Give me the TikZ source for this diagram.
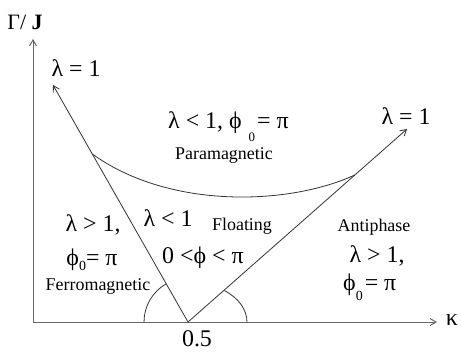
\documentclass[tikz,border=0pt]{standalone}
\usepackage{fontspec}
\setmainfont{Liberation Serif}
\usetikzlibrary{arrows.meta,positioning,calc}

\begin{document}
\begin{tikzpicture}[x=1bp, y=1bp, >={Straight Barb[length=6bp,width=7bp]},
  big/.style={font=\fontsize{24}{28}\selectfont, inner sep=0pt},
  small/.style={font=\fontsize{18}{21}\selectfont, inner sep=0pt},
  ln/.style={draw=black!80, line width=0.8bp},
  ax/.style={draw=black!60, line width=1bp}]
\useasboundingbox (0,0) rectangle (461,352);
\coordinate (o) at (33,30);
\coordinate (ytip) at (33,313);
\coordinate (xtip) at (437,30);
\coordinate (v) at (188,30);
\coordinate (lt) at (53,267);
\coordinate (rt) at (407,223);
\draw[ax,->] (o) -- (ytip);
\draw[ax,->] (o) -- (xtip);
\draw[ln,->] (v) -- (lt) coordinate[pos=0.709] (cl);
\draw[ln,->] (v) -- (rt) coordinate[pos=0.762] (cr);
\draw[ln] (cl) .. controls (170,142) and (290,147) .. (cr);
\draw[ln] ($(v)+(-44,0)$) arc[start angle=180, end angle=120, radius=44];
\draw[ln] ($(v)+(59,0)$) arc[start angle=0, end angle=52, x radius=59, y radius=40];
\node[font=\fontsize{22}{26}\selectfont, inner sep=0pt] (gj) at (25,330) {Γ/ \textbf{J}};
\node[big] (k) at (452,32) {κ};
\node[big] (half) at (197,13) {0.5};
\node[big] (l1a) at (76,284) {λ = 1};
\node[big] (l1b) at (406,236) {λ = 1};
\node[big, anchor=base west] (para) at (168,224)
  {λ < 1, ϕ\hspace{7bp}\raisebox{-13bp}{\fontsize{13}{14}\selectfont 0}\hspace{2bp}= π};
\node[small] (pm) at (224,197) {Paramagnetic};
\node[big] (fa) at (93,127) {λ > 1,};
\node[big] (fb) at (92,92) {ϕ\raisebox{-5bp}{\fontsize{14}{16}\selectfont 0}= π};
\node[small] (fm) at (98,66) {Ferromagnetic};
\node[big] (fla) at (168,134) {λ < 1};
\node[small] (fl) at (242,126) {Floating};
\node[big] (flb) at (203,94) {0 <ϕ < π};
\node[small] (ap) at (374,125) {Antiphase};
\node[big] (aa) at (377,96) {λ > 1,};
\node[big, anchor=base west] (ab) at (343,62)
  {ϕ\raisebox{-10bp}{\fontsize{14}{16}\selectfont 0}\hspace{2bp}= π};
\end{tikzpicture}
\end{document}
